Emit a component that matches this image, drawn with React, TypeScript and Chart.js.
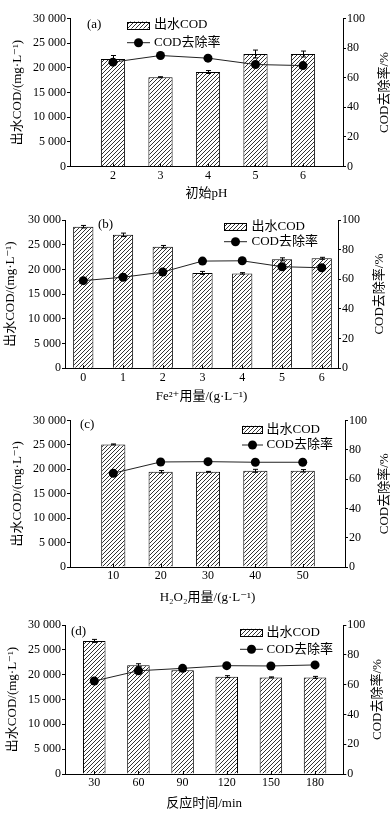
import React, { useEffect, useRef } from 'react';
import { Chart, registerables } from 'chart.js';
Chart.register(...registerables);

const FONT = "'Liberation Serif', 'DejaVu Serif', 'Noto Sans CJK SC', serif";

// ---- data ----
const phValues = [2, 3, 4, 5, 6];
const phCOD = [21800, 18100, 19150, 22800, 22800];
const phCODErr = [700, 100, 300, 800, 600];
const phRemoval = [70.5, 75.0, 73.2, 68.9, 68.2];

const feDose = [0, 1, 2, 3, 4, 5, 6];
const feCOD = [28650, 27000, 24600, 19300, 19200, 22050, 22250];
const feCODErr = [250, 350, 250, 300, 150, 300, 200];
const feRemoval = [59.1, 61.4, 64.9, 72.3, 72.5, 68.5, 67.8];

const h2o2Dose = [10, 20, 30, 40, 50];
const h2o2COD = [25100, 19500, 19500, 19700, 19700];
const h2o2CODErr = [100, 250, 80, 300, 250];
const h2o2Removal = [64.0, 71.7, 71.9, 71.5, 71.5];

const timeMin = [30, 60, 90, 120, 150, 180];
const timeCOD = [26800, 21900, 20900, 19600, 19450, 19450];
const timeCODErr = [300, 300, 250, 200, 100, 200];
const timeRemoval = [62.4, 69.3, 70.9, 72.7, 72.5, 73.2];

const codTicks = [0, 5000, 10000, 15000, 20000, 25000, 30000];
const removalTicks = [0, 20, 40, 60, 80, 100];

const barLabel = '出水COD';
const lineLabel = 'COD去除率';
const leftTitle = '出水COD/(mg·L⁻¹)';
const rightTitle = 'COD去除率/%';

type Panel = {
  letter: string; xTitle: string;
  xs: number[]; cod: number[]; codErr: number[]; removal: number[];
  top: number; height: number; padTop: number; xH: number;
  left: number; right: number; xMin: number; xMax: number;
  leftTitlePad: number; xTitlePad: number; rightTitleX: number;
  legend: { x: number; w: number; y1: number; y2: number; tx: number };
  letterPos: { x: number; y: number };
};

const panels: Panel[] = [
  {
    letter: '(a)', xTitle: '初始pH', xs: phValues, cod: phCOD, codErr: phCODErr, removal: phRemoval,
    top: 0, height: 203, padTop: 18.5, xH: 36.5, left: 70, right: 343, xMin: 1.095, xMax: 6.842,
    leftTitlePad: 9.7, xTitlePad: 1.7, rightTitleX: 385,
    legend: { x: 127, w: 23, y1: 25, y2: 42.7, tx: 154 }, letterPos: { x: 87, y: 25 },
  },
  {
    letter: '(b)', xTitle: 'Fe²⁺用量/(g·L⁻¹)', xs: feDose, cod: feCOD, codErr: feCODErr, removal: feRemoval,
    top: 203, height: 202, padTop: 17, xH: 36.7, left: 65, right: 338, xMin: -0.46, xMax: 6.41,
    leftTitlePad: 3.2, xTitlePad: 0.5, rightTitleX: 380,
    legend: { x: 224, w: 23, y1: 23.5, y2: 38.7, tx: 251.5 }, letterPos: { x: 98, y: 22 },
  },
  {
    letter: '(c)', xTitle: 'H₂O₂用量/(g·L⁻¹)', xs: h2o2Dose, cod: h2o2COD, codErr: h2o2CODErr, removal: h2o2Removal,
    top: 405, height: 203, padTop: 15.5, xH: 41, left: 70, right: 345, xMin: 0.86, xMax: 58.93,
    leftTitlePad: 9.7, xTitlePad: 2.2, rightTitleX: 385,
    legend: { x: 242, w: 21, y1: 24.3, y2: 40, tx: 266.5 }, letterPos: { x: 80, y: 20 },
  },
  {
    letter: '(d)', xTitle: '反应时间/min', xs: timeMin, cod: timeCOD, codErr: timeCODErr, removal: timeRemoval,
    top: 608, height: 205, padTop: 17, xH: 39, left: 65, right: 343.3, xMin: 10.1, xMax: 199.2,
    leftTitlePad: 4.7, xTitlePad: 1.9, rightTitleX: 378,
    legend: { x: 240, w: 23, y1: 24.3, y2: 41.3, tx: 266.5 }, letterPos: { x: 71, y: 23.7 },
  },
];

function fmtThousands(v: number): string {
  return String(v).replace(/\B(?=(\d{3})+(?!\d))/g, ' ');
}

function makeHatch(): CanvasPattern | string {
  const c = document.createElement('canvas');
  c.width = 4; c.height = 4;
  const g = c.getContext('2d');
  if (!g) return '#999';
  g.fillStyle = '#ffffff';
  g.fillRect(0, 0, 4, 4);
  g.strokeStyle = '#333';
  g.lineWidth = 1;
  g.beginPath();
  g.moveTo(0, 4); g.lineTo(4, 0);
  g.moveTo(-1, 1); g.lineTo(1, -1);
  g.moveTo(3, 5); g.lineTo(5, 3);
  g.stroke();
  return g.createPattern(c, 'repeat') || '#999';
}

function PanelChart({ p }: { p: Panel }) {
  const ref = useRef<HTMLCanvasElement>(null);
  useEffect(() => {
    if (!ref.current) return;
    const hatch = makeHatch();
    const W = 392;
    const deco = {
      id: 'panelDeco',
      afterDatasetDraw(chart: any, args: any) {
        if (args.index !== 1) return;
        const ctx = chart.ctx; const x = chart.scales.x; const y = chart.scales.y;
        ctx.save();
        ctx.strokeStyle = '#000'; ctx.lineWidth = 1;
        p.xs.forEach((v, i) => {
          const px = Math.round(x.getPixelForValue(v)) + 0.5;
          const t = y.getPixelForValue(p.cod[i] + p.codErr[i]);
          const b = y.getPixelForValue(p.cod[i] - p.codErr[i]);
          ctx.beginPath();
          ctx.moveTo(px, t); ctx.lineTo(px, b);
          ctx.moveTo(px - 2.5, t); ctx.lineTo(px + 2.5, t);
          ctx.moveTo(px - 2.5, b); ctx.lineTo(px + 2.5, b);
          ctx.stroke();
        });
        ctx.restore();
      },
      afterDraw(chart: any) {
        const ctx = chart.ctx; const x = chart.scales.x; const area = chart.chartArea;
        ctx.save();
        ctx.strokeStyle = '#000'; ctx.lineWidth = 1;
        // inward x ticks
        p.xs.forEach((v) => {
          const px = Math.round(x.getPixelForValue(v)) + 0.5;
          ctx.beginPath(); ctx.moveTo(px, area.bottom); ctx.lineTo(px, area.bottom - 3); ctx.stroke();
        });
        // legend
        const L = p.legend;
        ctx.fillStyle = hatch as any;
        ctx.fillRect(L.x, L.y1 - 3.5, L.w, 7);
        ctx.strokeRect(Math.round(L.x) + 0.5, Math.round(L.y1 - 3.5) + 0.5, L.w - 1, 7);
        ctx.strokeStyle = '#222';
        ctx.beginPath(); ctx.moveTo(L.x, L.y2); ctx.lineTo(L.x + L.w, L.y2); ctx.stroke();
        ctx.fillStyle = '#000';
        ctx.beginPath(); ctx.arc(L.x + L.w / 2, L.y2, 4.5, 0, Math.PI * 2); ctx.fill();
        ctx.font = `13px ${FONT}`;
        ctx.textBaseline = 'middle'; ctx.textAlign = 'left';
        ctx.fillText(barLabel, L.tx, L.y1);
        ctx.fillText(lineLabel, L.tx, L.y2);
        ctx.fillText(p.letter, p.letterPos.x, p.letterPos.y);
        // right title
        ctx.translate(p.rightTitleX, (area.top + area.bottom) / 2);
        ctx.rotate(-Math.PI / 2);
        ctx.textAlign = 'center';
        ctx.fillText(rightTitle, 0, 0);
        ctx.restore();
      },
    };
    const chart = new Chart(ref.current, {
      type: 'bar',
      data: {
        datasets: [
          {
            type: 'line',
            label: lineLabel,
            data: p.xs.map((v, i) => ({ x: v, y: p.removal[i] })),
            yAxisID: 'yR', xAxisID: 'x',
            borderColor: '#222', borderWidth: 1,
            pointRadius: 4.5, pointBackgroundColor: '#000', pointBorderColor: '#000', pointBorderWidth: 0,
            tension: 0,
          } as any,
          {
            type: 'bar',
            label: barLabel,
            data: p.xs.map((v, i) => ({ x: v, y: p.cod[i] })),
            yAxisID: 'y', xAxisID: 'x',
            backgroundColor: hatch as any, borderColor: '#000', borderWidth: 1,
            barPercentage: 0.51, categoryPercentage: 1,
          } as any,
        ],
      },
      options: {
        responsive: false,
        animation: false,
        layout: { padding: { top: p.padTop, left: 0, right: 0, bottom: 0 } },
        plugins: { legend: { display: false }, tooltip: { enabled: false } },
        scales: {
          x: {
            type: 'linear', min: p.xMin, max: p.xMax, offset: false,
            afterBuildTicks: (s: any) => { s.ticks = p.xs.map((v) => ({ value: v })); },
            afterFit: (s: any) => { s.height = p.xH; },
            grid: { display: false, drawTicks: false, offset: false },
            border: { display: true, color: '#000', width: 1 },
            ticks: { color: '#000', font: { family: FONT, size: 12 }, padding: 2, autoSkip: false, maxRotation: 0, callback: (v: any) => String(v) },
            title: { display: true, text: p.xTitle, color: '#000', font: { family: FONT, size: 13 }, padding: { top: 0, bottom: p.xTitlePad } },
          },
          y: {
            type: 'linear', position: 'left', min: 0, max: 30000,
            afterBuildTicks: (s: any) => { s.ticks = codTicks.map((v) => ({ value: v })); },
            afterFit: (s: any) => { s.width = p.left; },
            grid: { display: true, drawOnChartArea: false, drawTicks: true, tickLength: 3, color: '#000' },
            border: { display: true, color: '#000', width: 1 },
            ticks: { color: '#000', font: { family: FONT, size: 12 }, padding: 1, callback: (v: any) => fmtThousands(Number(v)) },
            title: { display: true, text: leftTitle, color: '#000', font: { family: FONT, size: 13 }, padding: { top: p.leftTitlePad, bottom: 0 } },
          },
          yR: {
            type: 'linear', position: 'right', min: 0, max: 100,
            afterBuildTicks: (s: any) => { s.ticks = removalTicks.map((v) => ({ value: v })); },
            afterFit: (s: any) => { s.width = W - p.right; },
            grid: { display: true, drawOnChartArea: false, drawTicks: true, tickLength: 3, color: '#000' },
            border: { display: true, color: '#000', width: 1 },
            ticks: { color: '#000', font: { family: FONT, size: 12 }, padding: 1 },
          },
        },
      } as any,
      plugins: [deco as any],
    });
    return () => chart.destroy();
  }, []);
  return (
    <div style={{ position: 'absolute', left: 0, top: p.top, width: 392, height: p.height }}>
      <canvas ref={ref} width={392} height={p.height} style={{ display: 'block', width: 392, height: p.height }} />
    </div>
  );
}

export default function App() {
  return (
    <div style={{ position: 'absolute', left: 0, top: 0, width: 392, height: 813, background: '#fff', overflow: 'hidden' }}>
      {panels.map((p) => (
        <PanelChart key={p.letter} p={p} />
      ))}
    </div>
  );
}
